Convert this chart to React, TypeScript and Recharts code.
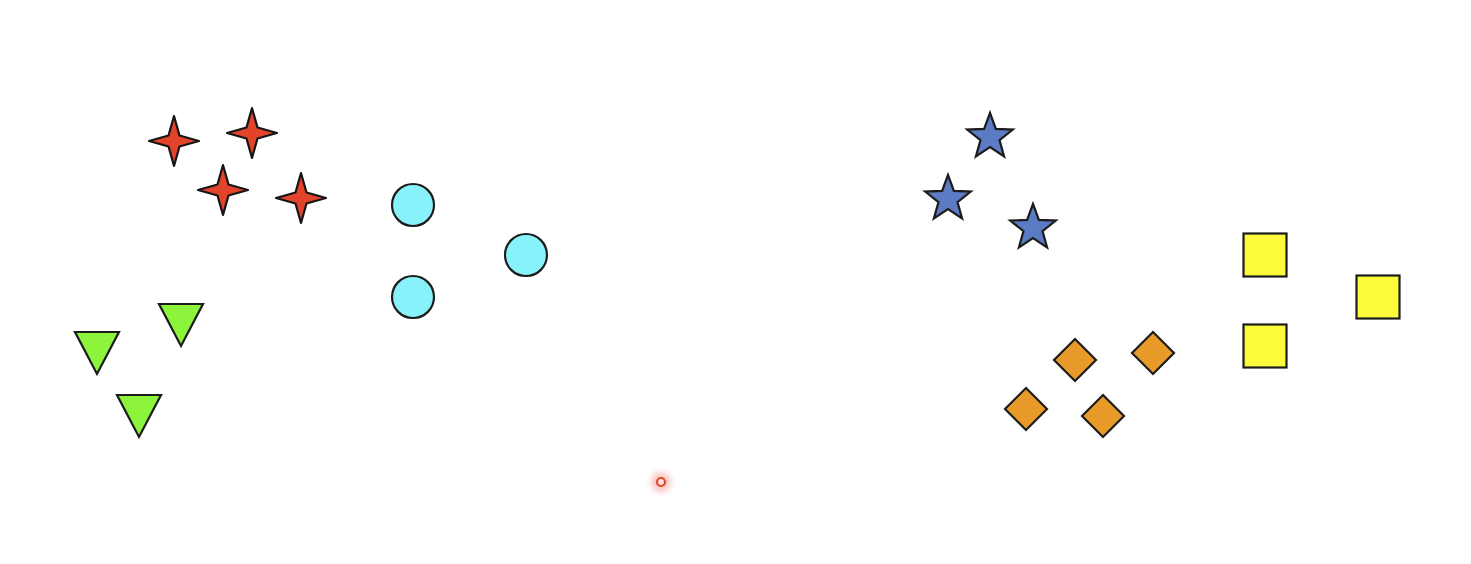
import React from "react";
import { ScatterChart, Scatter, XAxis, YAxis } from "recharts";

const W = 1471;
const H = 564;

// point positions (x right, y down)
const sparkles = [
  { x: 174, y: 141 },
  { x: 252, y: 133 },
  { x: 223, y: 190 },
  { x: 301, y: 198 },
];
const circles = [
  { x: 413, y: 205 },
  { x: 526, y: 255 },
  { x: 413, y: 297 },
];
const triangles = [
  { x: 97, y: 353 },
  { x: 181, y: 325 },
  { x: 139, y: 416 },
];
const stars = [
  { x: 990, y: 137 },
  { x: 948, y: 199 },
  { x: 1033, y: 228 },
];
const diamonds = [
  { x: 1075, y: 360 },
  { x: 1153, y: 353 },
  { x: 1026, y: 409 },
  { x: 1103, y: 416 },
];
const squares = [
  { x: 1265, y: 255 },
  { x: 1378, y: 297 },
  { x: 1265, y: 346 },
];
const cursor = [{ x: 661, y: 482 }];

const STROKE = "#1c1c1c";

const SparkleShape = (p: any) => {
  const { cx, cy } = p;
  const R = 25;
  const k = 5.5;
  const d = `M${cx},${cy - R} L${cx + k},${cy - k} L${cx + R},${cy} L${cx + k},${cy + k} L${cx},${cy + R} L${cx - k},${cy + k} L${cx - R},${cy} L${cx - k},${cy - k} Z`;
  return <path d={d} fill="#e2442b" stroke="#151515" strokeWidth={2.2} strokeLinejoin="round" />;
};

const CircleShape = (p: any) => (
  <circle cx={p.cx} cy={p.cy} r={21} fill="#88f2fb" stroke={STROKE} strokeWidth={2.2} />
);

const TriangleShape = (p: any) => {
  const { cx, cy } = p;
  const hw = 22;
  const hh = 21;
  const d = `M${cx - hw},${cy - hh} L${cx + hw},${cy - hh} L${cx},${cy + hh} Z`;
  return <path d={d} fill="#8cf43a" stroke={STROKE} strokeWidth={2.2} strokeLinejoin="miter" />;
};

const StarShape = (p: any) => {
  const { cx, cy } = p;
  const R = 24;
  const r = 10;
  const pts: string[] = [];
  for (let i = 0; i < 10; i++) {
    const a = -Math.PI / 2 + (i * Math.PI) / 5;
    const rad = i % 2 === 0 ? R : r;
    pts.push(`${cx + rad * Math.cos(a)},${cy + rad * Math.sin(a)}`);
  }
  return <polygon points={pts.join(" ")} fill="#5c7bc5" stroke={STROKE} strokeWidth={2.2} strokeLinejoin="miter" />;
};

const DiamondShape = (p: any) => {
  const { cx, cy } = p;
  const s = 21;
  const d = `M${cx},${cy - s} L${cx + s},${cy} L${cx},${cy + s} L${cx - s},${cy} Z`;
  return <path d={d} fill="#e99b2a" stroke={STROKE} strokeWidth={2.2} />;
};

const SquareShape = (p: any) => {
  const { cx, cy } = p;
  const s = 43;
  return <rect x={cx - s / 2} y={cy - s / 2} width={s} height={s} fill="#fdfc3c" stroke={STROKE} strokeWidth={2.2} />;
};

const CursorShape = (p: any) => {
  const { cx, cy } = p;
  return (
    <g>
      <defs>
        <radialGradient id="glow">
          <stop offset="0%" stopColor="#ec5a4a" stopOpacity={0.6} />
          <stop offset="50%" stopColor="#f09a96" stopOpacity={0.35} />
          <stop offset="100%" stopColor="#ffffff" stopOpacity={0} />
        </radialGradient>
      </defs>
      <circle cx={cx} cy={cy} r={17} fill="url(#glow)" />
      <circle cx={cx} cy={cy} r={4} fill="#fbe3df" stroke="#e4452c" strokeWidth={2.2} />
    </g>
  );
};

export default function App() {
  return (
    <div style={{ position: "absolute", left: 0, top: 0, width: W, height: H, background: "#ffffff" }}>
      <ScatterChart width={W} height={H} margin={{ top: 0, right: 0, bottom: 0, left: 0 }}>
        <XAxis type="number" dataKey="x" domain={[0, W]} hide />
        <YAxis type="number" dataKey="y" domain={[0, H]} reversed hide />
        <Scatter data={triangles} shape={TriangleShape} isAnimationActive={false} />
        <Scatter data={sparkles} shape={SparkleShape} isAnimationActive={false} />
        <Scatter data={circles} shape={CircleShape} isAnimationActive={false} />
        <Scatter data={stars} shape={StarShape} isAnimationActive={false} />
        <Scatter data={diamonds} shape={DiamondShape} isAnimationActive={false} />
        <Scatter data={squares} shape={SquareShape} isAnimationActive={false} />
        <Scatter data={cursor} shape={CursorShape} isAnimationActive={false} />
      </ScatterChart>
    </div>
  );
}
